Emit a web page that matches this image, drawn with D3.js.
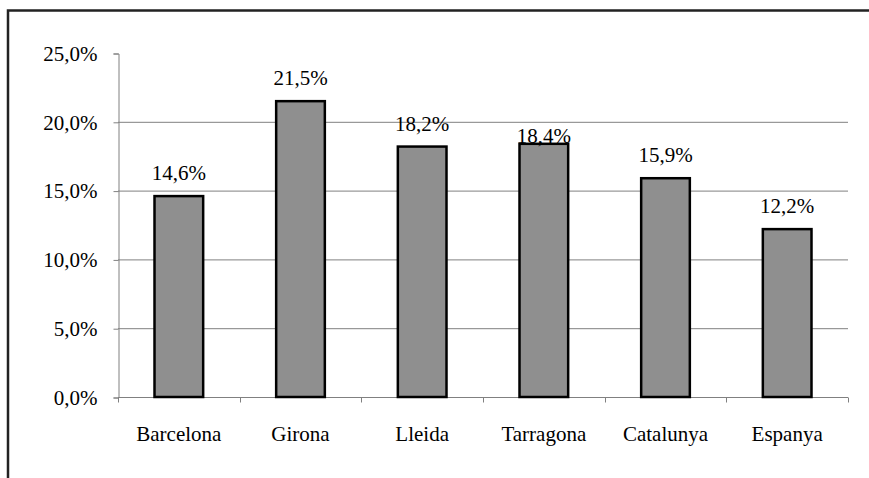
<!DOCTYPE html>
<html>
<head>
<meta charset="utf-8">
<script src="https://cdn.jsdelivr.net/npm/d3@7/dist/d3.min.js"></script>
<style>
  body { margin: 0; background: #fff; }
  svg { display: block; }
</style>
</head>
<body>
<div id="chart"></div>
<script>
// chart data
var categories = ["Barcelona", "Girona", "Lleida", "Tarragona", "Catalunya", "Espanya"];
var values = [14.6, 21.5, 18.2, 18.4, 15.9, 12.2];
var yTicks = [0, 5, 10, 15, 20, 25];

var width = 869, height = 478;
var margin = {left: 118, right: 21, top: 53, bottom: 81};
var serif = "Liberation Serif, DejaVu Serif, serif";
var fontSize = 21;

var svg = d3.select("#chart").append("svg")
    .attr("width", width)
    .attr("height", height)
    .attr("font-family", serif);

// outer frame (cut off on the right and bottom)
svg.append("rect")
    .attr("x", 8).attr("y", 10.5)
    .attr("width", 900).attr("height", 520)
    .attr("fill", "none")
    .attr("stroke", "#222")
    .attr("stroke-width", 2.5);

var x = d3.scaleBand()
    .domain(categories)
    .range([margin.left, width - margin.right]);

var y = d3.scaleLinear()
    .domain([0, 25])
    .range([height - margin.bottom, margin.top]);

var fmt = function (v) { return d3.format(".1f")(v).replace(".", ",") + "%"; };

// gridlines
svg.append("g").selectAll("line")
    .data(yTicks.filter(function (t) { return t > 0 && t < 25; }))
    .enter().append("line")
    .attr("x1", margin.left).attr("x2", width - margin.right)
    .attr("y1", function (d) { return y(d) + 0.5; })
    .attr("y2", function (d) { return y(d) + 0.5; })
    .attr("stroke", "#808080")
    .attr("stroke-width", 1);

// y axis
var yAxis = svg.append("g")
    .attr("transform", "translate(" + (margin.left + 0.5) + ",0.5)")
    .call(d3.axisLeft(y).tickValues(yTicks).tickFormat(fmt).tickSize(5).tickPadding(16))
    .attr("font-family", serif)
    .attr("font-size", fontSize);
yAxis.select(".domain").attr("stroke", "#808080");
yAxis.selectAll(".tick line").attr("stroke", "#808080");
yAxis.selectAll("text").attr("fill", "#000");

// x axis with ticks at category boundaries
var xAxisG = svg.append("g")
    .attr("transform", "translate(0," + (y(0) + 0.5) + ")");
xAxisG.append("line")
    .attr("x1", margin.left).attr("x2", width - margin.right)
    .attr("stroke", "#808080");
xAxisG.selectAll(".sep")
    .data(categories.concat(["end"]))
    .enter().append("line")
    .attr("class", "sep")
    .attr("x1", function (d, i) { return Math.round(margin.left + i * x.step()) + 0.5; })
    .attr("x2", function (d, i) { return Math.round(margin.left + i * x.step()) + 0.5; })
    .attr("y1", 0).attr("y2", 5)
    .attr("stroke", "#808080");
xAxisG.selectAll(".lab")
    .data(categories)
    .enter().append("text")
    .attr("x", function (d) { return x(d) + x.bandwidth() / 2; })
    .attr("y", 43)
    .attr("text-anchor", "middle")
    .attr("font-size", fontSize)
    .text(function (d) { return d; });

// bars
var barW = x.bandwidth() * 0.4;
svg.append("g").selectAll("rect")
    .data(values)
    .enter().append("rect")
    .attr("x", function (d, i) { return x(categories[i]) + (x.bandwidth() - barW) / 2; })
    .attr("y", function (d) { return y(d); })
    .attr("width", barW)
    .attr("height", function (d) { return y(0) - y(d); })
    .attr("fill", "#8f8f8f")
    .attr("stroke", "#000")
    .attr("stroke-width", 2.5);

// value labels; Tarragona label sits lower, as in the original
var labelGap = {Tarragona: 1};
svg.append("g").selectAll("text")
    .data(values)
    .enter().append("text")
    .attr("x", function (d, i) { return x(categories[i]) + x.bandwidth() / 2; })
    .attr("y", function (d, i) {
        var g = labelGap[categories[i]] !== undefined ? labelGap[categories[i]] : 16;
        return y(d) - g;
    })
    .attr("text-anchor", "middle")
    .attr("font-size", fontSize)
    .text(fmt);
</script>
</body>
</html>
